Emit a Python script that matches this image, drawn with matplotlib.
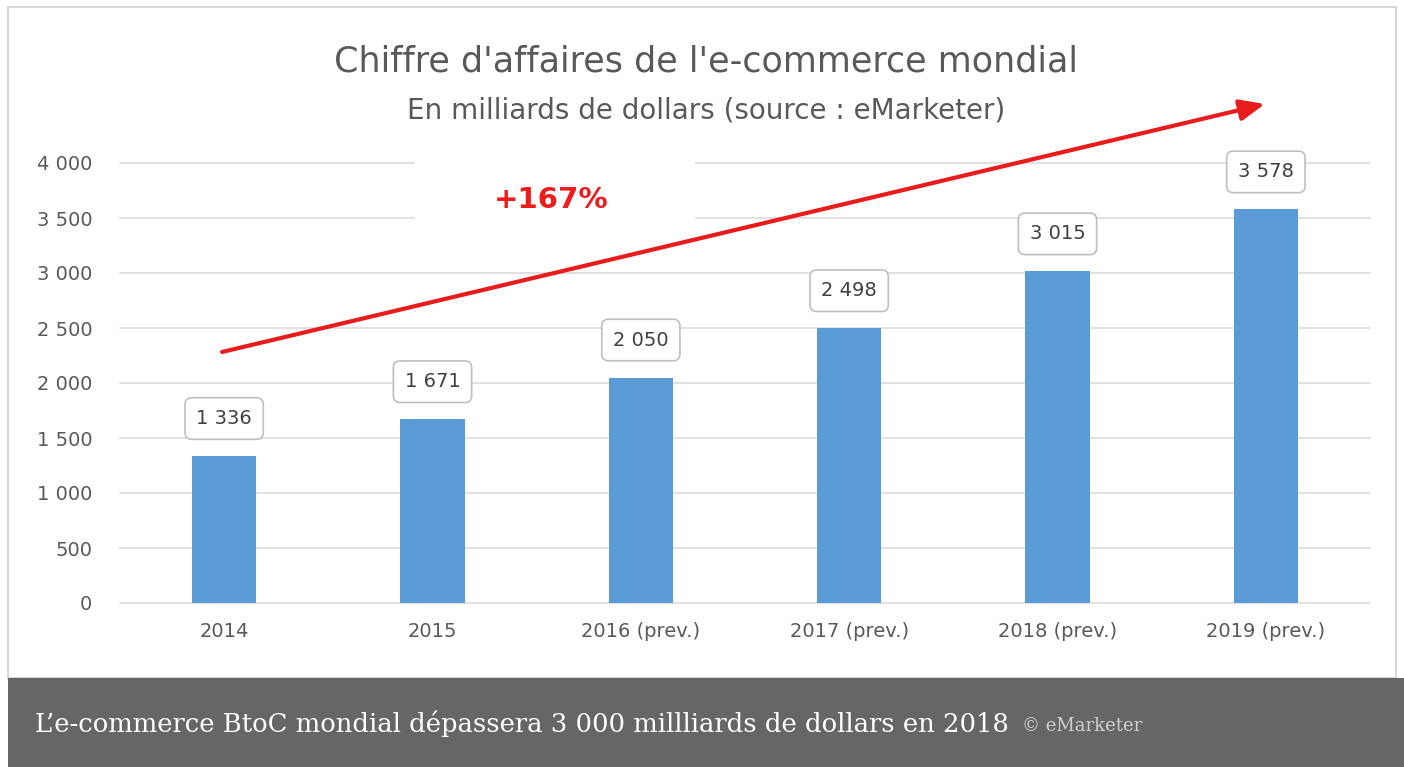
import matplotlib
matplotlib.use('Agg')
import matplotlib.pyplot as plt
from matplotlib.patches import Rectangle

# donnees eMarketer (milliards de dollars)
years = ['2014', '2015', '2016 (prev.)', '2017 (prev.)', '2018 (prev.)', '2019 (prev.)']
revenue = [1336, 1671, 2050, 2498, 3015, 3578]
yticks = [0, 500, 1000, 1500, 2000, 2500, 3000, 3500, 4000]

W, H = 1404, 767


def fmt(v):
    return '{:,}'.format(v).replace(',', ' ')


def fx(px):
    return px / W


def fy(py):
    return 1 - py / H


fig = plt.figure(figsize=(W / 100, H / 100), dpi=100)
fig.patch.set_facecolor('white')

# cadre + bandeau du bas
fig.patches.append(Rectangle((fx(8), fy(678)), fx(1396) - fx(8), fy(7) - fy(678),
                             transform=fig.transFigure, fc='none', ec='#d6d6d6', lw=1.5, zorder=-1))
fig.patches.append(Rectangle((fx(8), 0), fx(1404) - fx(8), fy(678),
                             transform=fig.transFigure, fc='#666666', ec='none', zorder=-1))

ax = fig.add_axes([fx(120), fy(603), fx(1370) - fx(120), fy(163) - fy(603)])
ax.set_facecolor('none')

x = list(range(len(years)))
ax.bar(x, revenue, width=0.31, color='#5b9bd5', zorder=3)

ax.set_xlim(-0.5, len(years) - 0.5)
ax.set_ylim(0, 4000)
ax.set_yticks(yticks)
ax.set_yticklabels([fmt(v) for v in yticks])
ax.set_xticks(x)
ax.set_xticklabels(years)
ax.yaxis.grid(True, color='#d9d9d9', lw=1.1)
for gl in ax.get_ygridlines():
    gl.set_clip_on(False)
ax.set_axisbelow(True)
for s in ax.spines.values():
    s.set_visible(False)
ax.tick_params(length=0, labelsize=14, colors='#595959')
ax.tick_params(axis='y', pad=20)
ax.tick_params(axis='x', pad=14)

for i, v in enumerate(revenue):
    ax.annotate(fmt(v), xy=(i, v), xytext=(0, 27), textcoords='offset points',
                ha='center', va='center', fontsize=14, color='#404040', zorder=5,
                bbox=dict(boxstyle='round,pad=0.58,rounding_size=0.35', fc='white', ec='#bfbfbf', lw=1.2))

# zone blanche derriere le +167%
ax.add_patch(Rectangle((0.916, 3380), 2.26 - 0.916, 4150 - 3380, fc='white', ec='none',
                       zorder=1.5, clip_on=False))
ax.text(1.57, 3664, '+167%', color='#ee1c1c', fontsize=21, fontweight='bold',
        ha='center', va='center', zorder=6)

ax.annotate('', xy=(4.995, 4536), xytext=(-0.01, 2282),
            arrowprops=dict(arrowstyle='-|>,head_length=0.75,head_width=0.32', color='#e81c1c',
                            lw=3, mutation_scale=20, shrinkA=0, shrinkB=0),
            annotation_clip=False, zorder=6)

fig.text(fx(706), fy(62), "Chiffre d'affaires de l'e-commerce mondial", ha='center', va='center',
         fontsize=25.2, color='#595959')
fig.text(fx(706), fy(110), 'En milliards de dollars (source : eMarketer)', ha='center', va='center',
         fontsize=20, color='#595959')

fig.text(fx(35), fy(724), "L\u2019e-commerce BtoC mondial d\u00e9passera 3 000 millliards de dollars en 2018",
         ha='left', va='center', family='DejaVu Serif', fontsize=18.6, color='white', zorder=3)
fig.text(fx(1022), fy(726), '\u00a9 eMarketer', ha='left', va='center', family='DejaVu Serif',
         fontsize=13, color='#d0d0d0', zorder=3)

fig.savefig('out.png', dpi=100)
